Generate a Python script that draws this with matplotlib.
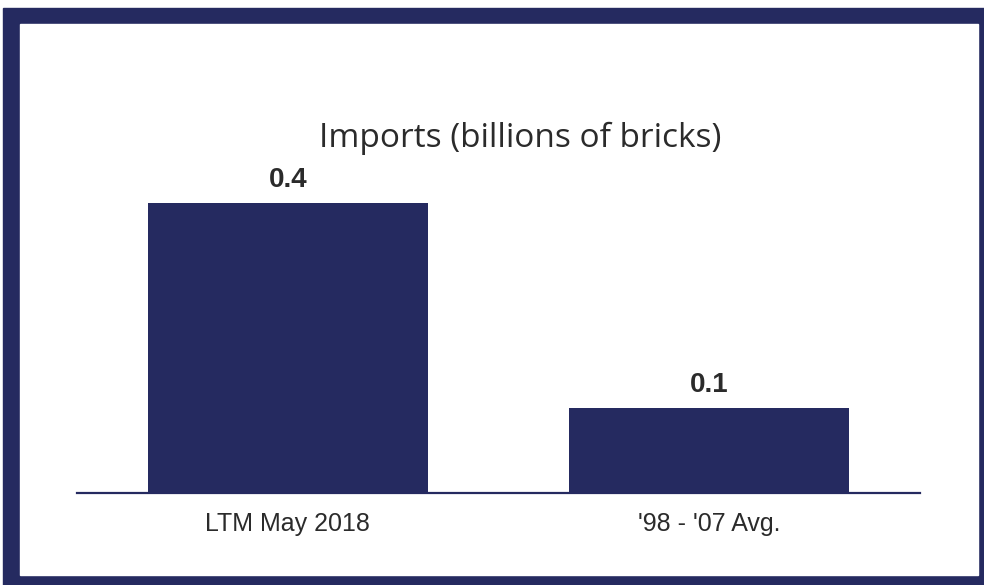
from matplotlib import pyplot as plt
from matplotlib.patches import Rectangle

categories = ["LTM May 2018", "'98 - '07 Avg."]
imports = [0.41, 0.12]  # billions of bricks

navy = "#252a60"
text_color = "#2b2b2b"

fig = plt.figure(figsize=(9.84, 5.85), dpi=100)

# framed panel: navy border around a white card
fig.patches.append(Rectangle((3 / 984, 0), 1, (585 - 8) / 585,
                             transform=fig.transFigure, color=navy, zorder=-2))
fig.patches.append(Rectangle((20 / 984, 10 / 585), 958 / 984, 551 / 585,
                             transform=fig.transFigure, color="white", zorder=-1))

ax = fig.add_axes([77 / 984, 92 / 585, 843 / 984, 353.6 / 585])
ax.set_zorder(1)
ax.patch.set_visible(False)

bars = ax.bar(range(len(categories)), imports, width=0.664, color=navy)
ax.set_xlim(-0.5, 1.5)
ax.set_ylim(0, 0.5)

for rect, val in zip(bars, imports):
    ax.annotate(f"{val:.1f}", (rect.get_x() + rect.get_width() / 2, val),
                xytext=(0, 11.5), textcoords="offset points",
                ha="center", va="baseline", fontsize=20, fontweight="bold",
                color=text_color, family="Liberation Sans")

for side in ["top", "right", "left"]:
    ax.spines[side].set_visible(False)
ax.spines["bottom"].set_color(navy)
ax.spines["bottom"].set_linewidth(1.6)
ax.set_yticks([])
ax.set_xticks(range(len(categories)))
ax.set_xticklabels(categories, fontsize=18, color=text_color,
                   family="Liberation Sans")
ax.tick_params(axis="x", length=0, pad=14)

fig.text(520 / 984, (585 - 147) / 585, "Imports (billions of bricks)",
         ha="center", va="baseline", fontsize=24, color=text_color,
         family="Open Sans", zorder=2)

fig.savefig("out.png", dpi=100)
